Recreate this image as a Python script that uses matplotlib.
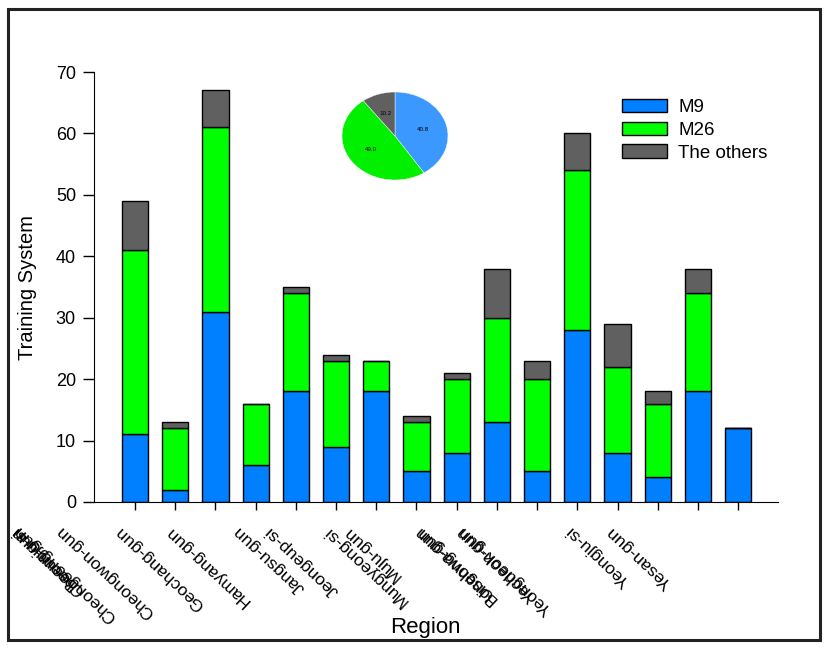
import numpy as np
import matplotlib
matplotlib.use("Agg")
import matplotlib.pyplot as plt
from matplotlib.patches import Rectangle

plt.rcParams['font.family'] = ['Liberation Sans', 'DejaVu Sans']

# data
regions = ["Boeun-gun", "Cheongju-si", "Cheongsong-gun", "Cheongwon-gun",
           "Geochang-gun", "Hamyang-gun", "Jangsu-gun", "Jeongeup-si",
           "Mungyeong-si", "Muju-gun", "Bonghwa-gun", "Uiseong-gun",
           "Yecheon-gun", "Yeongdeok-gun", "Yeongju-si", "Yesan-gun"]
m9 = [11, 2, 31, 6, 18, 9, 18, 5, 8, 13, 5, 28, 8, 4, 18, 12]
m26 = [30, 10, 30, 10, 16, 14, 5, 8, 12, 17, 15, 26, 14, 12, 16, 0]
others = [8, 1, 6, 0, 1, 1, 0, 1, 1, 8, 3, 6, 7, 2, 4, 0]
series_names = ["M9", "M26", "The others"]
pie_share = [40.8, 49.0, 10.2]

# where the (garbled) region labels sit, in bar units
label_pos = [-3.05, -3.0, -2.95, -1.9, -0.44, 0.81, 2.5, 3.29,
             4.74, 5.23, 6.98, 7.05, 8.04, 8.09, 10.78, 11.78]

blue = '#0080ff'
green = '#00ff00'
grey = '#606060'

fig = plt.figure(figsize=(8.33, 6.5), dpi=100)
ax = fig.add_axes([94/833, 1-502/650, 684/833, 430/650])

x = np.arange(len(regions))
w = 0.65
b1 = ax.bar(x, m9, w, color=blue, edgecolor='black', linewidth=1, label=series_names[0])
b2 = ax.bar(x, m26, w, bottom=m9, color=green, edgecolor='black', linewidth=1, label=series_names[1])
base = np.array(m9) + np.array(m26)
b3 = ax.bar(x, others, w, bottom=base, color=grey, edgecolor='black', linewidth=1, label=series_names[2])

ax.set_xlim(-1.02, 15.99)
ax.set_ylim(0, 70)
ax.set_yticks(np.arange(0, 71, 10))
ax.set_xticks(x)
ax.set_xticklabels([])
ax.spines['top'].set_visible(False)
ax.spines['right'].set_visible(False)
ax.tick_params(axis='y', direction='out', length=8, width=1, labelsize=13, pad=5)
ax.tick_params(axis='x', direction='out', length=6, width=1)

for name, p in zip(regions, label_pos):
    ax.text(p, -0.062, name, transform=ax.get_xaxis_transform(), rotation=137,
            rotation_mode='anchor', ha='right', va='center', fontsize=12.5)

ax.set_ylabel("Training System", fontsize=14.5)
ax.yaxis.set_label_coords(-0.083, 0.5)
ax.set_xlabel("Region", fontsize=16)
ax.xaxis.set_label_coords(0.485, -0.268)

fig.legend(handles=[b1, b2, b3], labels=series_names, loc='upper left',
           bbox_to_anchor=(605/833, 1-82/650), frameon=False, fontsize=13.5,
           handlelength=2.4, handleheight=0.7, handletextpad=0.6, labelspacing=0.3)

# small pie inset
axp = fig.add_axes([342/833, 1-180/650, 106/833, 88/650])
axp.pie(pie_share, colors=['#3a98ff', '#00f000', grey], startangle=90, counterclock=False,
        autopct='%.1f', pctdistance=0.55, textprops={'fontsize': 4.5},
        wedgeprops={'linewidth': 0.3, 'edgecolor': 'white'})
axp.set_aspect('auto')
axp.set_xlim(-1, 1)
axp.set_ylim(-1, 1)

# outer frame round the whole figure
fig.patches.append(Rectangle((8/833, 1-640/650), 812/833, 631/650, transform=fig.transFigure,
                             fill=False, edgecolor='#222222', linewidth=2.2))

fig.savefig("out.png", dpi=100)
